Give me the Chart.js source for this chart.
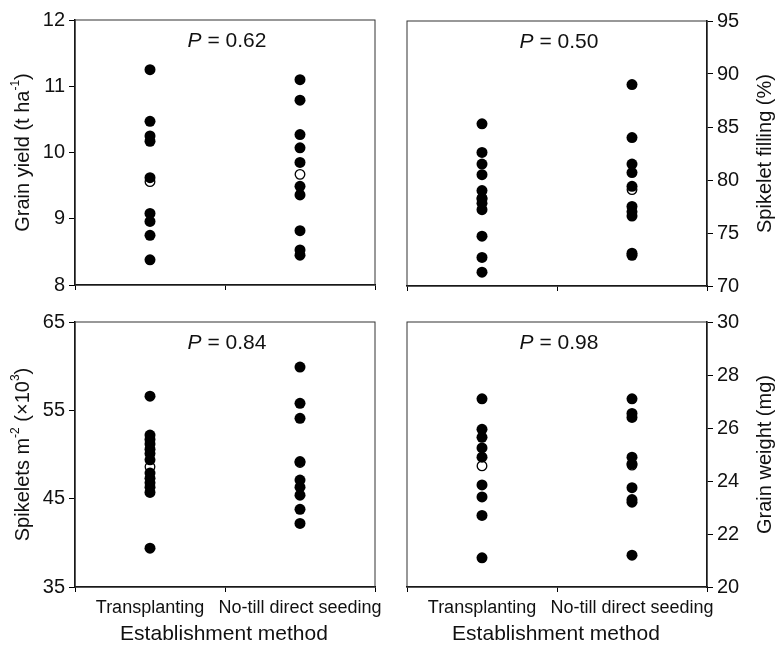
<!DOCTYPE html>
<html>
<head>
<meta charset="utf-8">
<script src="https://cdn.jsdelivr.net/npm/chart.js@4.4.1/dist/chart.umd.min.js"></script>
<style>
    body { margin: 0; background: #fff; }
    #wrap { position: relative; width: 775px; height: 648px; }
    #wrap canvas { position: absolute; left: 0; top: 0; }
</style>
</head>
<body>
<div id="wrap">
    <canvas id="yield" width="775" height="648"></canvas>
    <canvas id="filling" width="775" height="648"></canvas>
    <canvas id="spikelets" width="775" height="648"></canvas>
    <canvas id="weight" width="775" height="648"></canvas>
</div>
<script>
const methods = ['Transplanting', 'No-till direct seeding']
const xTitle = 'Establishment method'
const pValues = ['0.62', '0.50', '0.84', '0.98']

// grain yield (t/ha)
const yieldTP = [11.25, 10.47, 10.25, 10.17, 9.62, 9.08, 8.96, 8.75, 8.38]
const yieldNT = [11.10, 10.79, 10.27, 10.07, 9.85, 9.49, 9.36, 8.82, 8.53, 8.45]
const yieldMean = [9.56, 9.67]

// spikelet filling (%)
const fillTP = [85.3, 82.6, 81.5, 80.5, 79.0, 78.2, 77.8, 77.2, 74.7, 72.7, 71.3]
const fillNT = [89.0, 84.0, 81.5, 80.7, 79.4, 77.5, 77.0, 76.6, 73.1, 72.9]
const fillMean = [78.3, 79.1]

// spikelets per m2 (x1000)
const spikTP = [56.6, 52.2, 51.7, 51.2, 50.6, 50.1, 49.4, 47.9, 47.3, 46.8, 46.3, 45.7, 39.4]
const spikNT = [59.9, 55.8, 54.1, 49.2, 47.1, 46.3, 45.4, 43.8, 42.2]
const spikMean = [48.6, 49.1]

// grain weight (mg)
const weightTP = [27.1, 25.95, 25.65, 25.25, 24.9, 23.85, 23.4, 22.7, 21.1]
const weightNT = [27.1, 26.55, 26.4, 24.9, 24.65, 23.75, 23.3, 23.2, 21.2]
const weightMean = [24.57, 24.6]

const FONT = '"Liberation Sans", Arial, Helvetica, sans-serif'
const W = 775, H = 648

function richText(ctx, parts, size) {
    // width of text made of normal + superscript parts
    let w = 0
    parts.forEach(p => {
        ctx.font = (p.italic ? 'italic ' : '') + (p.sup ? Math.round(size * 0.62) : size) + 'px ' + FONT
        w += ctx.measureText(p.t).width
    })
    return w
}

function drawRich(ctx, parts, size, cx, cy) {
    let x = -richText(ctx, parts, size) / 2
    ctx.textBaseline = 'middle'
    ctx.textAlign = 'left'
    parts.forEach(p => {
        const s = p.sup ? Math.round(size * 0.62) : size
        ctx.font = (p.italic ? 'italic ' : '') + s + 'px ' + FONT
        ctx.fillText(p.t, cx + x, cy + (p.sup ? -size * 0.35 : 0))
        x += ctx.measureText(p.t).width
    })
}

const decor = {
    id: 'decor',
    afterDraw(chart, args, o) {
        const ctx = chart.ctx
        const a = chart.chartArea
        ctx.save()
        ctx.strokeStyle = '#333'
        ctx.lineWidth = 1
        ctx.strokeRect(a.left, a.top, a.right - a.left, a.bottom - a.top)
        ctx.fillStyle = '#111'
        const mid = (a.left + a.right) / 2
        drawRich(ctx, [{t: 'P', italic: true}, {t: ' = ' + o.p}], 21, mid + 2, a.top + 21)
        ctx.save()
        ctx.translate(o.titleX, (a.top + a.bottom) / 2)
        ctx.rotate(-Math.PI / 2)
        drawRich(ctx, o.title, 20, 0, 0)
        ctx.restore()
        if (o.xTitle) {
            drawRich(ctx, [{t: xTitle}], 21, mid - 1, 634)
        }
        ctx.restore()
    }
}

function panel(id, tp, nt, mean, box) {
    const pts = []
    tp.forEach(v => pts.push({x: 1, y: v}))
    nt.forEach(v => pts.push({x: 3, y: v}))
    const left = box.side === 'left'
    new Chart(document.getElementById(id), {
        type: 'scatter',
        data: {
            datasets: [{
                data: pts,
                pointRadius: 5.5,
                pointBackgroundColor: '#000',
                pointBorderColor: '#000',
                pointBorderWidth: 0
            }, {
                data: [{x: 1, y: mean[0]}, {x: 3, y: mean[1]}],
                pointRadius: 4.8,
                pointBackgroundColor: '#fff',
                pointBorderColor: '#000',
                pointBorderWidth: 1.3
            }]
        },
        options: {
            responsive: false,
            animation: false,
            events: [],
            layout: {
                padding: {
                    left: left ? 0 : box.left,
                    right: left ? W - box.right : 0,
                    top: box.top,
                    bottom: 0
                }
            },
            plugins: {
                legend: {display: false},
                tooltip: {enabled: false},
                decor: {p: box.p, title: box.title, titleX: box.titleX, xTitle: box.showX}
            },
            scales: {
                x: {
                    type: 'linear',
                    min: 0,
                    max: 4,
                    afterBuildTicks: s => { s.ticks = [0, 1, 2, 3, 4].map(v => ({value: v})) },
                    afterFit: s => { s.height = H - box.bottom; s.paddingLeft = 0; s.paddingRight = 0 },
                    grid: {
                        drawOnChartArea: false,
                        tickLength: 5,
                        tickWidth: 1,
                        tickColor: c => (c.tick && c.tick.value % 2 === 0) ? '#000' : 'rgba(0,0,0,0)'
                    },
                    border: {color: '#000', width: 1.5},
                    ticks: {
                        display: box.showX,
                        autoSkip: false,
                        maxRotation: 0,
                        padding: 5,
                        color: '#111',
                        font: {size: 18, family: FONT},
                        callback: v => v === 1 ? methods[0] : (v === 3 ? methods[1] : '')
                    }
                },
                y: {
                    position: box.side,
                    min: box.min,
                    max: box.max,
                    afterFit: s => {
                        s.width = left ? box.left : W - box.right
                        s.paddingTop = 0
                        s.paddingBottom = 0
                    },
                    grid: {drawOnChartArea: false, tickLength: 6, tickColor: '#000'},
                    border: {color: '#000', width: 1.5},
                    ticks: {
                        stepSize: box.step,
                        padding: 4,
                        color: '#111',
                        font: {size: 20, family: FONT}
                    }
                }
            }
        },
        plugins: [decor]
    })
}

panel('yield', yieldTP, yieldNT, yieldMean, {
    side: 'left', left: 75, right: 375, top: 20, bottom: 285, min: 8, max: 12, step: 1,
    p: pValues[0], showX: false, titleX: 23,
    title: [{t: 'Grain yield (t ha'}, {t: '-1', sup: true}, {t: ')'}]
})
panel('filling', fillTP, fillNT, fillMean, {
    side: 'right', left: 407, right: 707, top: 21, bottom: 286, min: 70, max: 95, step: 5,
    p: pValues[1], showX: false, titleX: 765,
    title: [{t: 'Spikelet filling (%)'}]
})
panel('spikelets', spikTP, spikNT, spikMean, {
    side: 'left', left: 75, right: 375, top: 322, bottom: 587, min: 35, max: 65, step: 10,
    p: pValues[2], showX: true, titleX: 23,
    title: [{t: 'Spikelets m'}, {t: '-2', sup: true}, {t: ' (\u00d710'}, {t: '3', sup: true}, {t: ')'}]
})
panel('weight', weightTP, weightNT, weightMean, {
    side: 'right', left: 407, right: 707, top: 322, bottom: 587, min: 20, max: 30, step: 2,
    p: pValues[3], showX: true, titleX: 765,
    title: [{t: 'Grain weight (mg)'}]
})
</script>
</body>
</html>
